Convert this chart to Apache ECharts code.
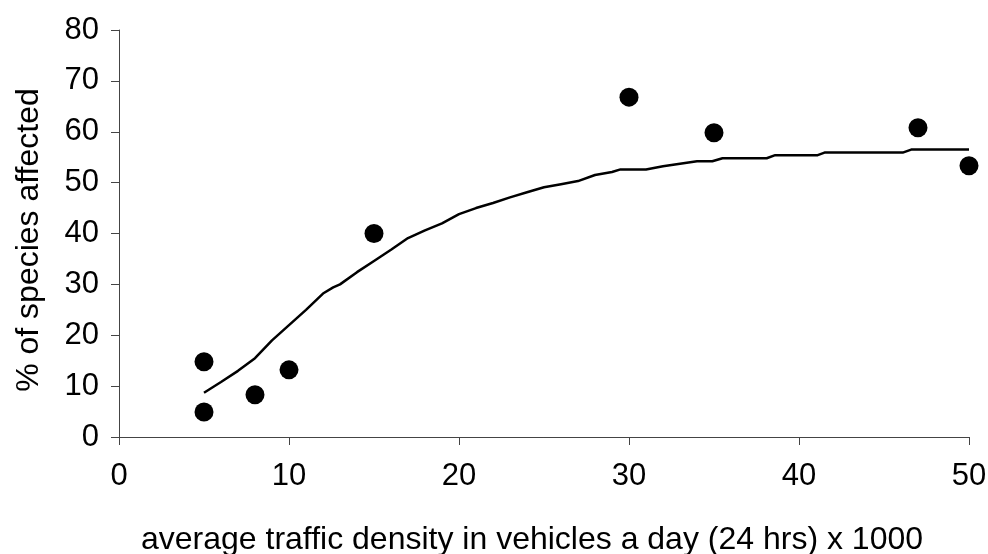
<!DOCTYPE html>
<html>
<head>
<meta charset="utf-8">
<script src="https://cdn.jsdelivr.net/npm/echarts@6/dist/echarts.min.js"></script>
<style>html,body{margin:0;padding:0;background:#fff;}#c{width:988px;height:554px;}</style>
</head>
<body>
<div id="c"></div>
<script>
var obsX = [5, 5, 8, 10, 15, 30, 35, 47, 50];
var obsY = [14.8, 4.9, 8.3, 13.2, 40, 66.8, 59.8, 60.8, 53.3];
var fitX = [5, 6, 7, 8, 9, 10, 11, 12, 12.6, 13, 14, 15, 16, 17, 18, 19, 20, 21, 22, 23, 24, 25, 26, 27, 28, 29, 29.5, 31, 32, 33, 34, 34.9, 35.5, 38.1, 38.6, 41.1, 41.5, 46.1, 46.6, 50];
var fitY = [8.7, 10.8, 13.0, 15.5, 19.0, 22.0, 25.0, 28.2, 29.4, 30.0, 32.4, 34.6, 36.8, 39.1, 40.6, 42.0, 43.8, 45.0, 46.0, 47.1, 48.1, 49.1, 49.7, 50.3, 51.5, 52.1, 52.6, 52.6, 53.2, 53.7, 54.2, 54.2, 54.8, 54.8, 55.4, 55.4, 55.9, 55.9, 56.5, 56.5];
var xTitle = 'average traffic density in vehicles a day (24 hrs) x 1000';
var yTitle = '% of species affected';

var font = 'Liberation Sans, Arial, sans-serif';
var chart = echarts.init(document.getElementById('c'));
chart.setOption({
  animation: false,
  backgroundColor: '#fff',
  grid: {left: 119, right: 19, top: 30, bottom: 117, outerBoundsMode: 'none', containLabel: false},
  xAxis: {
    type: 'value', min: 0, max: 50, interval: 10,
    name: xTitle, nameLocation: 'middle', nameGap: 87,
    nameTextStyle: {fontFamily: font, fontSize: 32, color: '#000', padding: [0, 24, 0, 0]},
    axisLine: {show: true, onZero: false, lineStyle: {color: '#444', width: 1}},
    axisTick: {show: true, length: 8, lineStyle: {color: '#444'}},
    axisLabel: {fontFamily: font, fontSize: 31, color: '#000', margin: 24},
    splitLine: {show: false}
  },
  yAxis: {
    type: 'value', min: 0, max: 80, interval: 10,
    name: yTitle, nameLocation: 'middle', nameGap: 74, nameRotate: 90,
    nameTextStyle: {fontFamily: font, fontSize: 32, color: '#000', padding: [0, 13, 0, 0]},
    axisLine: {show: true, onZero: false, lineStyle: {color: '#444', width: 1}},
    axisTick: {show: true, length: 8, lineStyle: {color: '#444'}},
    axisLabel: {fontFamily: font, fontSize: 31, color: '#000', margin: 20},
    splitLine: {show: false}
  },
  series: [
    {
      type: 'line',
      data: fitX.map(function (x, i) { return [x, fitY[i]]; }),
      showSymbol: false, symbol: 'none',
      lineStyle: {color: '#000', width: 2.5},
      z: 2
    },
    {
      type: 'scatter',
      data: obsX.map(function (x, i) { return [x, obsY[i]]; }),
      symbol: 'circle', symbolSize: 19,
      itemStyle: {color: '#000', opacity: 1},
      z: 3
    }
  ]
});
</script>
</body>
</html>
